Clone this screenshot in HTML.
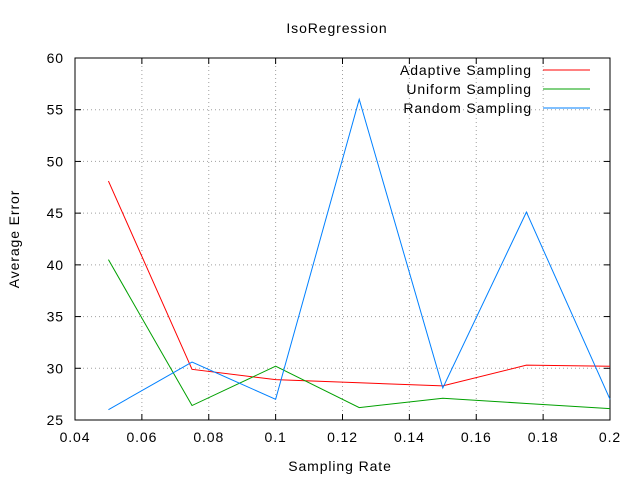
<!DOCTYPE html>
<html><head><meta charset="utf-8"><style>
body{margin:0;background:#fff;}
svg text{font-family:"Liberation Sans",sans-serif;font-size:14px;fill:#000;letter-spacing:0.9px;}
</style></head><body>
<svg id="chart" width="640" height="480" xmlns="http://www.w3.org/2000/svg">
<rect width="640" height="480" fill="#fff"/>
<g id="grid"></g>
<g id="axes"></g>
<g id="series"></g>
<text x="337" y="33" text-anchor="middle">IsoRegression</text>
<text x="340" y="471" text-anchor="middle">Sampling Rate</text>
<text transform="translate(19,239) rotate(-90)" text-anchor="middle">Average Error</text>
<g id="legend"></g>
</svg>
<script>
const xValues=[0.05,0.075,0.1,0.125,0.15,0.175,0.2];
const adaptive=[48.1,29.9,28.9,28.6,28.3,30.3,30.2];
const uniform=[40.5,26.4,30.2,26.2,27.1,26.6,26.1];
const random=[26,30.6,27,56,28.1,45.1,27];
const xTicks=[0.04,0.06,0.08,0.1,0.12,0.14,0.16,0.18,0.2];
const xTickLabels=["0.04","0.06","0.08","0.1","0.12","0.14","0.16","0.18","0.2"];
const yTicks=[25,30,35,40,45,50,55,60];
const seriesNames=["Adaptive Sampling","Uniform Sampling","Random Sampling"];
const colors=["#ff0000","#00a000","#0080ff"];
const L=75,R=610,T=58,B=420;
const X=v=>L+(v-0.04)/(0.2-0.04)*(R-L);
const Y=v=>B-(v-25)/(60-25)*(B-T);
const NS="http://www.w3.org/2000/svg";
function mk(tag,attrs,parent){const e=document.createElementNS(NS,tag);for(const k in attrs)e.setAttribute(k,attrs[k]);document.getElementById(parent).appendChild(e);return e;}
xTicks.forEach((t,i)=>{
 const x=X(t);
 if(i>0&&i<xTicks.length-1){const g=mk('line',{x1:x,x2:x,y1:T,y2:B,stroke:'#a0a0a0','stroke-dasharray':'1,3'},'grid');
 
 }
 mk('line',{x1:x,x2:x,y1:B,y2:B-6,stroke:'#000'},'axes');
 mk('line',{x1:x,x2:x,y1:T,y2:T+6,stroke:'#000'},'axes');
 const tx=mk('text',{x:x,y:B+22,'text-anchor':'middle'},'axes');tx.textContent=xTickLabels[i];
 
 
});
yTicks.forEach((t,i)=>{
 const y=Y(t);
 if(i>0&&i<yTicks.length-1){const g=mk('line',{x1:L,x2:R,y1:y,y2:y,stroke:'#a0a0a0','stroke-dasharray':'1,3'},'grid');
 
 }
 mk('line',{x1:L,x2:L+6,y1:y,y2:y,stroke:'#000'},'axes');
 mk('line',{x1:R,x2:R-6,y1:y,y2:y,stroke:'#000'},'axes');
 const tx=mk('text',{x:L-11,y:y+5,'text-anchor':'end'},'axes');tx.textContent=t;
 
 
});
const fr=mk('rect',{x:L,y:T,width:R-L,height:B-T,fill:'none',stroke:'#000'},'axes');


[adaptive,uniform,random].forEach((s,k)=>{
 const p=mk('polyline',{points:s.map((v,i)=>X(xValues[i])+','+Y(v)).join(' '),fill:'none',stroke:colors[k],'stroke-width':1},'series');
 
 
 const ly=70+k*19;
 const t=mk('text',{x:532,y:ly+5,'text-anchor':'end'},'legend');t.textContent=seriesNames[k];
 
 
 const l=mk('line',{x1:543,x2:590,y1:ly,y2:ly,stroke:colors[k]},'legend');
 
 
});
</script>
</body></html>
